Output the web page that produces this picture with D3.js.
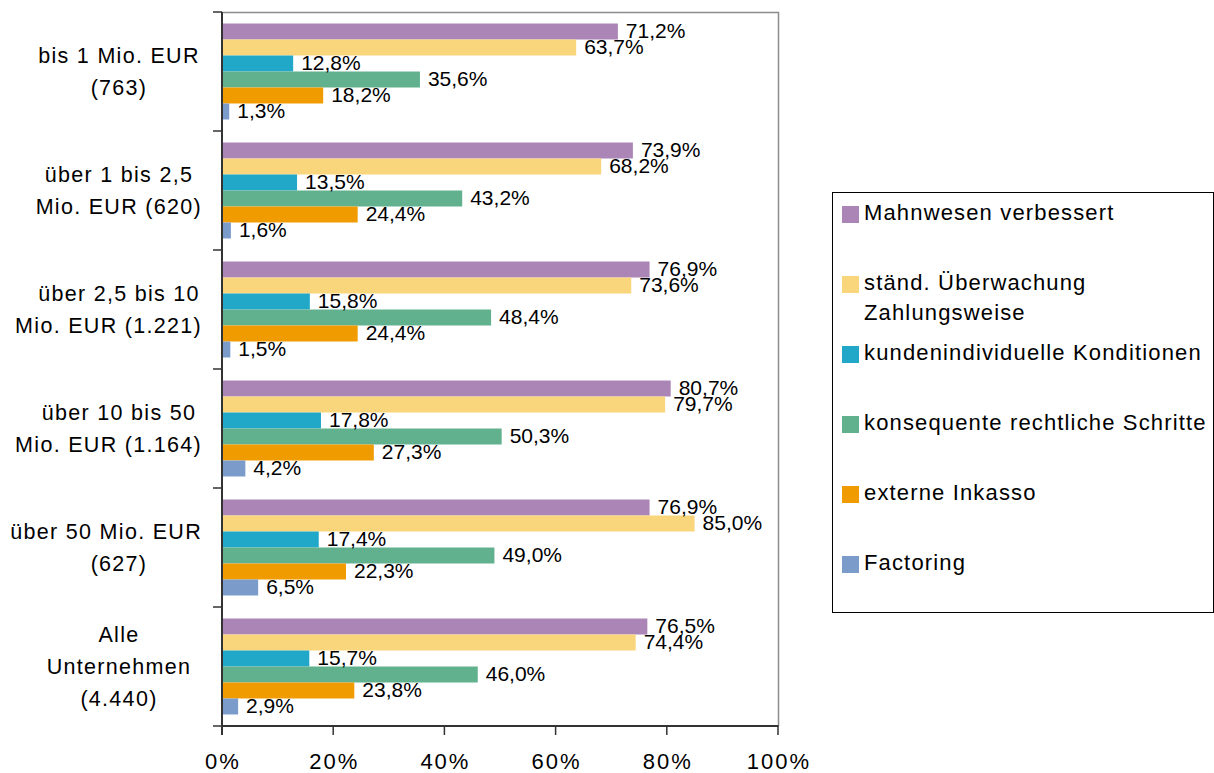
<!DOCTYPE html>
<html>
<head>
<meta charset="utf-8">
<script src="https://cdn.jsdelivr.net/npm/d3@7"></script>
<style>
  html, body { margin: 0; padding: 0; background: #fff; }
  svg { display: block; font-family: "Liberation Sans", Arial, sans-serif; }
</style>
</head>
<body>
<svg id="chart" width="1214" height="773"></svg>
<script>
// Company size classes (rows), each split over several lines
const categories = [
  ["bis 1 Mio. EUR", "(763)"],
  ["über 1 bis 2,5", "Mio. EUR (620)"],
  ["über 2,5 bis 10", "Mio. EUR (1.221)"],
  ["über 10 bis 50", "Mio. EUR (1.164)"],
  ["über 50 Mio. EUR", "(627)"],
  ["Alle", "Unternehmen", "(4.440)"]
];

// Measures (series), top to bottom inside each row
const seriesNames = [
  ["Mahnwesen verbessert"],
  ["ständ. Überwachung", "Zahlungsweise"],
  ["kundenindividuelle Konditionen"],
  ["konsequente rechtliche Schritte"],
  ["externe Inkasso"],
  ["Factoring"]
];
const seriesColors = ["#aa85b6", "#f9d57b", "#21a8c8", "#61b18f", "#f09b00", "#7b9cca"];

// Share of companies per measure (percent), one array per measure
const mahnwesen   = [71.2, 73.9, 76.9, 80.7, 76.9, 76.5];
const ueberwachung = [63.7, 68.2, 73.6, 79.7, 85.0, 74.4];
const konditionen = [12.8, 13.5, 15.8, 17.8, 17.4, 15.7];
const rechtlich   = [35.6, 43.2, 48.4, 50.3, 49.0, 46.0];
const inkasso     = [18.2, 24.4, 24.4, 27.3, 22.3, 23.8];
const factoring   = [1.3, 1.6, 1.5, 4.2, 6.5, 2.9];
const seriesValues = [mahnwesen, ueberwachung, konditionen, rechtlich, inkasso, factoring];

const xTicks = [0, 20, 40, 60, 80, 100];

const svg = d3.select("#chart");
const plot = { left: 222, right: 778, top: 12, bottom: 726 };

const x = d3.scaleLinear().domain([0, 100]).range([plot.left, plot.right]);
const rowIdx = d3.range(categories.length);
const y0 = d3.scaleBand().domain(rowIdx).range([plot.top, plot.bottom]).paddingInner(0).paddingOuter(0);
const y1 = d3.scaleBand().domain(d3.range(seriesNames.length))
  .range([0, y0.bandwidth()]).paddingInner(0).paddingOuter(0.72);

const fmt = v => d3.format(".1f")(v).replace(".", ",") + "%";

// Plot frame: light top and right edges
svg.append("path")
  .attr("d", `M${plot.left},${plot.top + 0.5}H${plot.right + 0.5}V${plot.bottom}`)
  .attr("fill", "none").attr("stroke", "#8c8c8c").attr("stroke-width", 1.5);

// Bars
const rows = svg.append("g").selectAll("g")
  .data(rowIdx).join("g")
  .attr("transform", i => `translate(0,${y0(i)})`);

rows.selectAll("rect")
  .data(i => seriesValues.map((vals, s) => ({ s, v: vals[i] })))
  .join("rect")
  .attr("x", x(0))
  .attr("y", d => y1(d.s))
  .attr("width", d => x(d.v) - x(0))
  .attr("height", y1.bandwidth())
  .attr("fill", d => seriesColors[d.s]);

// Value labels
rows.selectAll("text")
  .data(i => seriesValues.map((vals, s) => ({ s, v: vals[i] })))
  .join("text")
  .attr("x", d => x(d.v) + 8)
  .attr("y", d => y1(d.s) + y1.bandwidth() / 2 + 6.5)
  .attr("font-size", 21)
  .attr("fill", "#000")
  .text(d => fmt(d.v));

// Category axis (left)
const yAxisG = svg.append("g");
yAxisG.append("line")
  .attr("x1", plot.left).attr("x2", plot.left)
  .attr("y1", plot.top).attr("y2", plot.bottom + 9)
  .attr("stroke", "#333").attr("stroke-width", 2);
yAxisG.selectAll("line.tick")
  .data(d3.range(categories.length + 1)).join("line")
  .attr("class", "tick")
  .attr("x1", plot.left - 9).attr("x2", plot.left)
  .attr("y1", i => i < categories.length ? y0(i) : plot.bottom)
  .attr("y2", i => i < categories.length ? y0(i) : plot.bottom)
  .attr("stroke", "#333").attr("stroke-width", 1.5);

// Category labels, centred lines, kept clear of the axis
const labelCenter = 119;
const lineGap = 32;
categories.forEach((lines, i) => {
  const cy = y0(i) + y0.bandwidth() / 2;
  lines.forEach((line, k) => {
    const t = svg.append("text")
      .attr("font-size", 21.5)
      .attr("letter-spacing", 1.3)
      .attr("fill", "#000")
      .attr("y", cy + (k - (lines.length - 1) / 2) * lineGap + 7.5)
      .text(line);
    const w = t.node().getComputedTextLength();
    const left = Math.min(labelCenter - w / 2, 202 - w);
    t.attr("x", left);
  });
});

// Value axis (bottom)
const xAxisG = svg.append("g");
xAxisG.append("line")
  .attr("x1", plot.left).attr("x2", plot.right + 0.5)
  .attr("y1", plot.bottom).attr("y2", plot.bottom)
  .attr("stroke", "#333").attr("stroke-width", 2);
xAxisG.selectAll("line.tick")
  .data(xTicks).join("line")
  .attr("class", "tick")
  .attr("x1", d => x(d)).attr("x2", d => x(d))
  .attr("y1", plot.bottom).attr("y2", plot.bottom + 9)
  .attr("stroke", "#333").attr("stroke-width", 1.5);
xAxisG.selectAll("text")
  .data(xTicks).join("text")
  .attr("x", d => x(d) + 1)
  .attr("y", plot.bottom + 43)
  .attr("text-anchor", "middle")
  .attr("font-size", 22)
  .attr("letter-spacing", 2)
  .attr("fill", "#000")
  .text(d => d + "%");

// Legend
const legend = { x: 832, y: 192, w: 381, h: 420, rowStep: 70, firstTop: 206 };
svg.append("rect")
  .attr("x", legend.x + 0.5).attr("y", legend.y + 0.5)
  .attr("width", legend.w).attr("height", legend.h)
  .attr("fill", "#fff").attr("stroke", "#000").attr("stroke-width", 1);

const items = svg.append("g").selectAll("g")
  .data(seriesNames.map((name, s) => ({ name, s })))
  .join("g")
  .attr("transform", d => `translate(${legend.x + 10},${legend.firstTop + d.s * legend.rowStep})`);

items.append("rect")
  .attr("width", 17).attr("height", 17)
  .attr("fill", d => seriesColors[d.s]);

items.each(function (d) {
  const g = d3.select(this);
  d.name.forEach((line, k) => {
    g.append("text")
      .attr("x", 22)
      .attr("y", 14 + k * 30)
      .attr("font-size", 22)
      .attr("letter-spacing", 1.15)
      .attr("fill", "#000")
      .text(line);
  });
});
</script>
</body>
</html>
